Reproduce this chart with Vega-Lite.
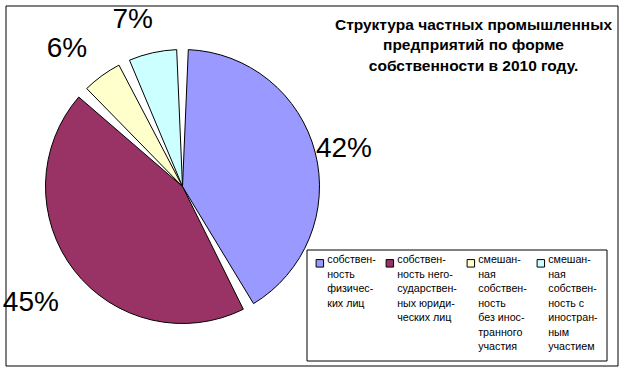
{
  "$schema": "https://vega.github.io/schema/vega-lite/v6.json",
  "width": 612,
  "height": 360,
  "autosize": {"type": "none"},
  "padding": {"left": 5.5, "top": 5.5, "right": 6.5, "bottom": 5.5},
  "background": "white",
  "view": {"stroke": "black", "strokeWidth": 1},
  "config": {
    "view": {"stroke": "black", "strokeWidth": 1},
    "font": "Liberation Sans",
    "style": {"guide-label": {"lineHeight": 14.5}}
  },
  "title": {
    "text": ["Структура частных промышленных", "предприятий по форме", "собственности в 2010 году."],
    "orient": "bottom",
    "anchor": "start",
    "frame": "group",
    "align": "center",
    "dx": 468,
    "dy": -348,
    "offset": 0,
    "baseline": "top",
    "fontSize": 15.5,
    "fontWeight": "bold",
    "lineHeight": 20.6,
    "color": "black",
    "font": "Liberation Sans"
  },
  "data": {
    "values": [
      {"category": "собствен-|ность|физичес-|ких лиц", "share": 42, "text": "42%", "order": 1},
      {"category": "собствен-|ность него-|сударствен-|ных юриди-|ческих лиц", "share": 45, "text": "45%", "order": 2},
      {"category": "смешан-|ная|собствен-|ность|без инос-|транного|участия", "share": 6, "text": "6%", "order": 3},
      {"category": "смешан-|ная|собствен-|ность с|иностран-|ным|участием", "share": 7, "text": "7%", "order": 4}
    ]
  },
  "layer": [
    {
      "mark": {"type": "arc", "radius": 137, "padAngle": 0.085, "stroke": "black", "strokeWidth": 1, "x": 177, "y": 181},
      "encoding": {
        "theta": {"field": "share", "type": "quantitative", "stack": true},
        "order": {"field": "order", "type": "quantitative"},
        "color": {
          "field": "category",
          "type": "nominal",
          "scale": {
            "domain": [
              "собствен-|ность|физичес-|ких лиц",
              "собствен-|ность него-|сударствен-|ных юриди-|ческих лиц",
              "смешан-|ная|собствен-|ность|без инос-|транного|участия",
              "смешан-|ная|собствен-|ность с|иностран-|ным|участием"
            ],
            "range": ["#9999FF", "#993366", "#FFFFCC", "#CCFFFF"]
          },
          "legend": {
            "orient": "none",
            "legendX": 301,
            "legendY": 244,
            "direction": "horizontal",
            "columns": 4,
            "title": null,
            "strokeColor": "black",
            "fillColor": "white",
            "padding": 8,
            "symbolType": "square",
            "symbolSize": 56,
            "symbolStrokeColor": "black",
            "symbolStrokeWidth": 1,
            "labelFontSize": 10.7,
            "labelFont": "Liberation Sans",
            "labelColor": "black",
            "labelExpr": "slice(split(datum.label + '||||||', '|'), 0, 7)",
            "labelBaseline": "alphabetic",
            "labelOffset": 2,
            "labelLimit": 120,
            "columnPadding": 7
          }
        }
      }
    },
    {
      "mark": {"type": "text", "radius": 178, "x": 166, "y": 188, "fontSize": 28, "font": "Liberation Sans", "color": "black"},
      "encoding": {
        "theta": {"field": "share", "type": "quantitative", "stack": true},
        "order": {"field": "order", "type": "quantitative"},
        "text": {"field": "text", "type": "nominal"}
      }
    }
  ]
}
